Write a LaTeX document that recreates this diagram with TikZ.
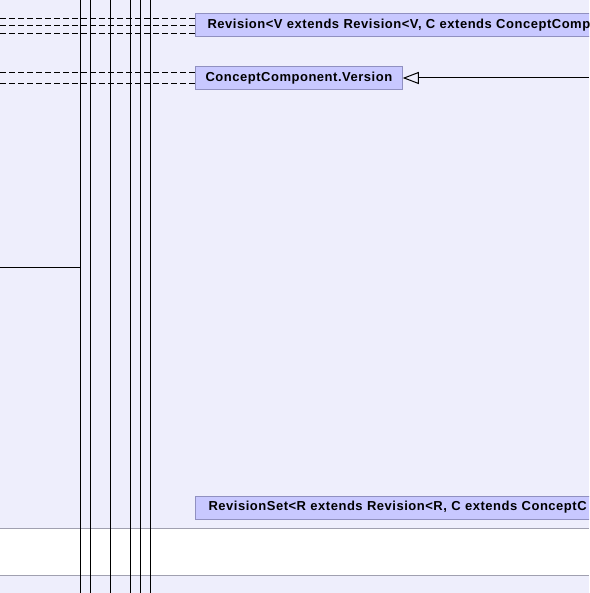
\documentclass[tikz,border=0pt]{standalone}
\usepackage{fontspec}
\newfontfamily\umlfont[LetterSpace=4]{Liberation Sans}
\usetikzlibrary{arrows.meta}
\definecolor{umlback}{RGB}{238,238,252}
\definecolor{umlfill}{RGB}{200,200,255}
\definecolor{umledge}{RGB}{144,144,192}
\definecolor{umlband}{RGB}{160,160,176}
\tikzset{
  classbox/.style={draw=umledge,fill=umlfill,line width=1pt,anchor=west,
    inner xsep=12pt,inner ysep=0pt,minimum height=23pt,
    font=\umlfont\bfseries\fontsize{13}{15}\selectfont},
  widebox/.style={classbox,text width=420pt,align=left},
  lifeline/.style={black,line width=1pt},
  depline/.style={black,line width=0.8pt,dash pattern=on 6pt off 3pt},
  genline/.style={black,line width=1pt,-{Triangle[open,width=12pt,length=16pt]}}
}
\begin{document}
\begin{tikzpicture}[x=1pt,y=-1pt]
    \useasboundingbox (0,0) rectangle (589,593);
    \clip (0,0) rectangle (589,593);
    \fill[umlback] (0,0) rectangle (589,593);
    \fill[white] (0,528) rectangle (589,576);
    \draw[umlband,line width=1pt] (0,528) -- (589,528);
    \draw[umlband,line width=1pt] (0,575.5) -- (589,575.5);
    % lifelines
    \foreach \lx in {80.5,90.5,110.5,130.5,140.5,150.5}
      \draw[lifeline] (\lx,0) -- (\lx,593);
    \coordinate (lefta) at (0,267);
    \coordinate (lifea) at (80.5,267);
    \draw[lifeline] (lefta) -- (lifea);
    % classes
    \node[widebox] (rev) at (195,25.5) {Revision<V extends Revision<V, C extends ConceptComp};
    \node[classbox,inner xsep=10pt] (ver) at (195,78) {ConceptComponent.Version};
    \node[widebox,inner xsep=13pt] (revset) at (195,507.5) {RevisionSet<R extends Revision<R, C extends ConceptC};
    % dependencies
    \foreach \dy/\nm in {18/a,25/b,33/c}{
      \coordinate (dep\nm) at (0,\dy);
      \draw[depline] (dep\nm) -- (rev.west |- dep\nm);
    }
    \foreach \dy/\nm in {72/d,83/e}{
      \coordinate (dep\nm) at (0,\dy);
      \draw[depline] (dep\nm) -- (ver.west |- dep\nm);
    }
    % generalization
    \coordinate (rightb) at (589,78);
    \draw[genline] (rightb) -- (ver.east);
\end{tikzpicture}
\end{document}
